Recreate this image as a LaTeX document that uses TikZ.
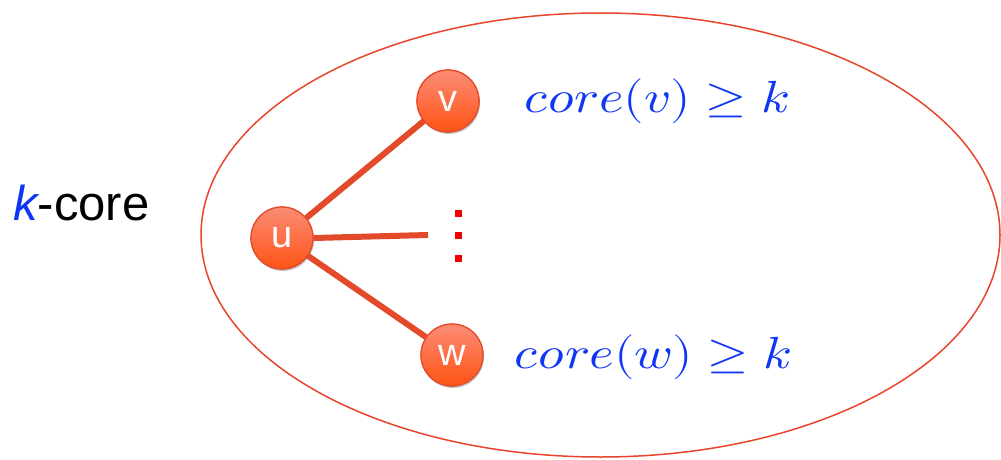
\documentclass[tikz,border=0pt]{standalone}
\usepackage{graphicx}
\usepackage{fontspec}
\setmainfont{Liberation Sans}
\usepackage{unicode-math}
\setmathfont{Latin Modern Math}
\usetikzlibrary{shadows}
\definecolor{edgered}{HTML}{E24A2A}
\definecolor{ellred}{HTML}{E8452A}
\definecolor{ntop}{HTML}{FB8C76}
\definecolor{nbot}{HTML}{FF5314}
\definecolor{mblue}{HTML}{1036F5}
\definecolor{dotred}{HTML}{F00000}
\tikzset{
  vnode/.style={circle, minimum size=62pt, inner sep=0pt, draw=edgered, line width=1.2pt,
    top color=ntop, bottom color=nbot, text=white,
    font=\fontsize{38}{38}\selectfont,
    drop shadow={opacity=0.25, shadow xshift=1pt, shadow yshift=-2pt}},
  gedge/.style={draw=edgered, line width=6pt},
  mtext/.style={text=mblue, font=\fontsize{45}{45}\selectfont, inner sep=0pt},
  sq/.style={fill=dotred}
}
\begin{document}
\begin{tikzpicture}[x=1pt,y=-1pt]
\useasboundingbox (0,0) rectangle (1001,460);
\draw[ellred, line width=1.5pt] (600.5,235) ellipse [x radius=399.5, y radius=222];
\node[inner sep=0pt, anchor=west, font=\fontsize{49}{49}\selectfont] (kc) at (13,203) {\textcolor{mblue}{\itshape k}-core};
\coordinate (dend) at (428,235);
\fill[sq] (454.5,209.5) rectangle (461.5,216.5);
\fill[sq] (454.5,231.5) rectangle (461.5,238.5);
\fill[sq] (454.5,254.5) rectangle (461.5,261.5);
\path (448,101) node[vnode] (v) {}
      (282,238) node[vnode] (u) {}
      (452,355) node[vnode] (w) {};
\draw[gedge] (u) -- (v);
\draw[gedge] (u) -- (w);
\draw[gedge] (u.east) -- (dend);
\path (448,101) node[vnode] (v2) {v}
      (282,238) node[vnode] (u2) {u}
      (452,355) node[vnode] (w2) {w};
\node[mtext] (cv) at (657,101) {\scalebox{1.17}[1]{$core(v)\geq k$}};
\node[mtext] (cw) at (653,357) {\scalebox{1.17}[1]{$core(w)\geq k$}};
\end{tikzpicture}
\end{document}
